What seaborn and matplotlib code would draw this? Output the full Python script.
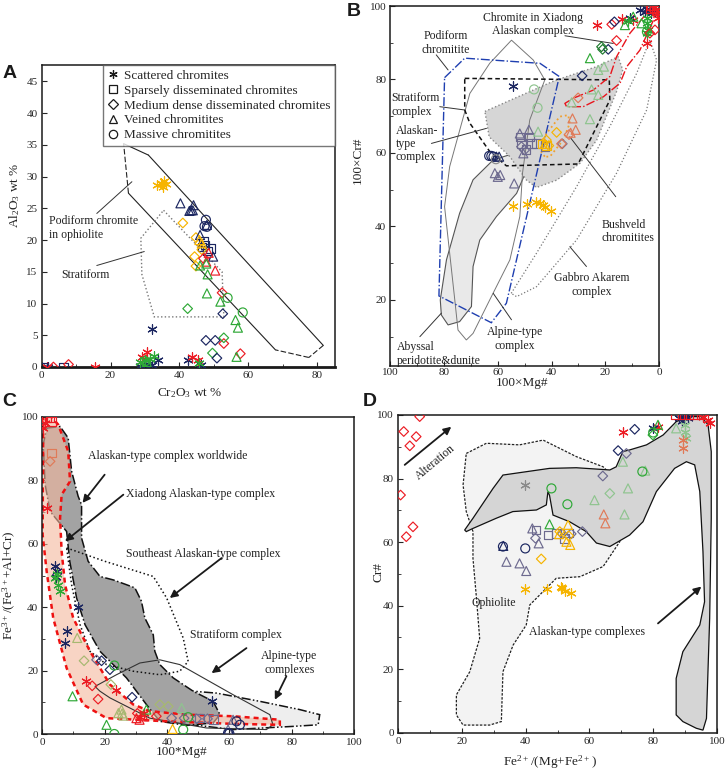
import matplotlib
matplotlib.use("Agg")
import matplotlib.pyplot as plt
from matplotlib.markers import MarkerStyle
from matplotlib.lines import Line2D
from matplotlib.patches import Polygon
import seaborn as sns
import pandas as pd

sns.set_theme(style="white")
plt.rcParams['font.family'] = ['Liberation Serif', 'DejaVu Serif']
plt.rcParams['mathtext.default'] = 'regular'

# ---------------- colours ----------------
COL = {'navy': '#1b2660', 'red': '#ec1c24', 'green': '#2ea836', 'gold': '#f6b400',
       'lgreen': '#8fc48f', 'salmon': '#e07a58', 'gp': '#6d6a8f', 'gray': '#8a8a8a',
       'dgreen': '#1e7a2e', 'olive': '#a6b870'}

KINDS = ['Scattered chromites', 'Sparsely disseminated chromites',
         'Medium dense disseminated chromites', 'Veined chromitites', 'Massive chromitites']
MARK = {'Scattered chromites': (6, 2, 0), 'Sparsely disseminated chromites': 's',
        'Medium dense disseminated chromites': 'D', 'Veined chromitites': '^',
        'Massive chromitites': 'o'}
SIZE = {'Scattered chromites': 46, 'Sparsely disseminated chromites': 38,
        'Medium dense disseminated chromites': 24, 'Veined chromitites': 42,
        'Massive chromitites': 42}

# ---------------- Panel A data (Cr2O3, Al2O3) ----------------
A_scattered = [(33.5, 28.7, 'gold'), (34.6, 29.0, 'gold'), (35.2, 28.3, 'gold'), (35.6, 29.3, 'gold'),
               (36.1, 28.8, 'gold'), (35.0, 28.9, 'gold'),
               (32.0, 6.0, 'navy'), (33.7, 1.1, 'navy'), (32.0, 0.3, 'navy'), (28.6, 0.2, 'navy'),
               (29.6, 0.3, 'navy'), (30.8, 0.5, 'navy'), (42.4, 1.1, 'navy'), (46.4, 0.3, 'navy'),
               (1.9, 0.0, 'navy'),
               (30.6, 2.4, 'red'), (29.0, 1.6, 'red'), (43.6, 1.6, 'red'), (45.3, 1.1, 'red'),
               (1.5, 0.0, 'red'), (15.5, 0.0, 'red'),
               (32.7, 1.8, 'green'), (28.6, 0.8, 'green'), (29.9, 1.1, 'green'), (31.5, 1.3, 'green'),
               (45.8, 0.6, 'green')]
A_sparse = [(0.2, 0.0, 'navy'), (6.3, 0.0, 'navy'), (46.6, 18.9, 'navy'), (47.5, 19.2, 'navy'),
            (49.0, 18.7, 'navy'), (47.0, 19.8, 'navy'), (48.2, 18.3, 'navy')]
A_medium = [(41.0, 22.7, 'gold'), (44.8, 20.4, 'gold'), (44.4, 17.4, 'gold'), (44.8, 15.9, 'gold'),
            (46.5, 18.5, 'gold'),
            (47.0, 17.1, 'red'), (52.4, 11.7, 'red'), (52.9, 3.7, 'red'), (57.7, 2.1, 'red'),
            (3.4, 0.0, 'red'), (7.8, 0.4, 'red'),
            (42.4, 9.2, 'green'), (49.6, 2.2, 'green'), (52.9, 4.6, 'green'),
            (52.6, 8.4, 'navy'), (47.7, 4.2, 'navy'), (50.4, 4.2, 'navy'), (50.9, 1.4, 'navy')]
A_veined = [(40.3, 25.8, 'navy'), (43.4, 24.7, 'navy'), (44.1, 25.5, 'navy'), (43.9, 24.7, 'navy'),
            (42.9, 24.6, 'navy'), (48.0, 22.4, 'navy'), (46.0, 20.8, 'navy'), (49.8, 17.4, 'navy'),
            (47.8, 16.6, 'red'), (50.4, 15.2, 'red'), (48.5, 18.0, 'red'),
            (45.8, 20.0, 'gold'), (46.5, 19.5, 'gold'),
            (46.0, 16.0, 'green'), (47.8, 16.3, 'green'), (48.2, 14.6, 'green'), (48.0, 11.6, 'green'),
            (51.9, 10.3, 'green'), (56.3, 7.4, 'green'), (57.0, 6.2, 'green'), (56.6, 1.6, 'green'),
            (30.5, 0.8, 'green')]
A_massive = [(47.7, 23.2, 'navy'), (47.3, 22.2, 'navy'), (48.0, 22.1, 'navy'),
             (54.0, 10.9, 'green'), (58.4, 8.6, 'green'), (30.0, 0.9, 'green')]

A_podiform = [(23.8, 35.2), (31.0, 33.4), (81.8, 3.4), (77.6, 1.5), (67.9, 2.7), (25.2, 27.4)]
A_podiform_dashed = [False, False, True, True, False, True]   # style of each edge
A_stratiform = [(35.4, 24.7), (52.4, 15.0), (52.9, 7.9), (32.7, 7.9), (29.1, 14.6), (28.8, 20.3)]

# ---------------- Panel B data (100xMg#, 100xCr#) ----------------
B_scattered = [(0.9, 98.0, 'red'), (0.5, 96.6, 'red'), (23.2, 94.8, 'red'), (13.9, 96.4, 'red'),
               (9.8, 96.2, 'red'), (4.6, 89.8, 'red'), (1.2, 99.0, 'red'),
               (7.1, 98.9, 'navy'), (5.2, 98.5, 'navy'), (4.6, 99.1, 'navy'), (10.8, 96.6, 'navy'),
               (54.2, 78.2, 'navy'), (3.0, 98.0, 'navy'),
               (4.6, 96.6, 'green'), (4.6, 95.3, 'green'), (4.0, 93.5, 'green'), (4.6, 92.6, 'green'),
               (11.5, 95.8, 'green'),
               (54.5, 45.7, 'gold'), (49.1, 46.0, 'gold'), (45.6, 46.6, 'gold'), (44.3, 46.3, 'gold'),
               (43.1, 45.9, 'gold'), (42.3, 45.2, 'gold'), (40.3, 44.3, 'gold')]
B_sparse = [(0.5, 100.0, 'red'), (1.6, 99.6, 'red'), (2.8, 100.0, 'red'), (3.4, 99.2, 'red'),
            (1.0, 98.8, 'red'),
            (51.8, 64.4, 'gp'), (51.2, 62.6, 'gp'), (48.1, 64.4, 'gp'), (45.6, 62.6, 'gp'),
            (42.5, 61.7, 'gp'), (47.5, 62.6, 'gp'), (49.5, 61.0, 'gp'),
            (43.5, 62.5, 'gold'), (41.8, 62.0, 'gold')]
B_medium = [(0.25, 99.8, 'red'), (2.1, 98.9, 'red'), (1.5, 93.5, 'red'), (3.4, 92.6, 'red'),
            (17.6, 95.0, 'red'), (15.8, 90.6, 'red'),
            (16.6, 95.7, 'navy'), (18.9, 88.2, 'navy'), (28.6, 81.0, 'navy'), (36.0, 62.5, 'gp'),
            (21.4, 88.9, 'dgreen'), (21.0, 88.2, 'dgreen'),
            (30.1, 75.0, 'salmon'), (36.3, 62.5, 'salmon'), (33.5, 65.0, 'salmon'),
            (38.1, 65.6, 'gold'), (41.9, 63.5, 'gold'), (41.0, 62.0, 'gold'),
            (51.2, 61.7, 'gp'), (50.0, 60.8, 'gp')]
B_veined = [(25.7, 85.8, 'green'), (12.7, 94.8, 'green'), (9.6, 97.1, 'green'), (6.5, 95.3, 'green'),
            (22.6, 82.6, 'lgreen'), (20.5, 83.5, 'lgreen'), (25.1, 77.3, 'lgreen'), (22.6, 75.8, 'lgreen'),
            (32.5, 73.8, 'lgreen'), (25.7, 69.2, 'lgreen'), (45.0, 65.8, 'lgreen'),
            (32.2, 69.4, 'salmon'), (31.0, 66.3, 'salmon'), (32.9, 65.5, 'salmon'),
            (51.8, 65.3, 'gp'), (48.4, 66.3, 'gp'), (50.5, 59.9, 'gp'), (61.1, 54.5, 'gp'),
            (59.1, 54.0, 'gp'), (53.9, 51.7, 'gp'), (60.0, 53.5, 'gp'),
            (60.5, 59.0, 'navy'), (59.5, 59.0, 'navy'), (42.5, 62.5, 'gold')]
B_massive = [(46.5, 77.3, 'lgreen'), (45.2, 72.3, 'lgreen'),
             (63.2, 59.2, 'navy'), (62.4, 59.2, 'navy'), (61.6, 59.0, 'navy'), (60.7, 58.3, 'gray'),
             (4.5, 93.0, 'green')]

B_podiform = [(79.8, 80.5), (72.3, 85.8), (44.3, 84.4), (37.1, 80.8), (56.8, 19.1), (62.4, 13.8), (81.9, 21.1)]
B_stratiform = [(72.3, 80.3), (18.5, 79.9), (18.3, 74.4), (30.1, 57.0), (56.8, 56.5), (63.0, 60.4),
                (70.4, 68.1), (72.3, 71.7)]
B_alaskan = [(64.8, 71.3), (38.8, 79.7), (23.2, 83.5), (15.2, 86.2), (13.5, 82.6), (15.8, 76.7),
             (23.2, 63.5), (29.4, 57.2), (38.1, 52.6), (45.6, 50.6), (49.3, 52.6), (55.5, 59.0), (63.2, 64.4)]
B_abyssal = [(81.4, 20.0), (79.1, 30.9), (74.2, 43.6), (69.2, 52.7), (61.7, 58.1), (51.8, 60.4), (48.1, 59.9),
             (48.7, 56.3), (53.0, 49.0), (60.5, 42.7), (66.7, 36.3), (69.2, 29.1), (69.8, 18.2),
             (74.2, 14.1), (78.5, 13.2), (81.0, 15.9)]
B_alpine = [(54.9, 90.7), (46.8, 85.3), (42.5, 79.9), (48.1, 69.0), (50.8, 54.5), (51.8, 42.7), (55.5, 30.9),
            (63.0, 20.0), (69.2, 10.9), (71.7, 9.1), (74.8, 11.8), (76.0, 20.0), (79.8, 45.4), (77.9, 56.3),
            (70.4, 76.2), (63.0, 84.4)]
B_gabbro = [(55.0, 21.8), (45.6, 32.7), (30.7, 50.8), (18.3, 67.2), (8.3, 81.7), (3.4, 90.7), (0.9, 85.3),
            (4.6, 71.7), (15.8, 54.5), (30.7, 36.3), (45.6, 23.6), (53.0, 20.9)]
B_bushveld = [(42.5, 59.0), (44.3, 60.8), (41.9, 65.3), (36.9, 69.9), (33.8, 70.3), (33.2, 68.1),
              (35.7, 63.5), (40.6, 59.0)]
B_xiadong = [(0.9, 100.0), (2.1, 96.1), (7.1, 88.0), (12.0, 83.5), (14.5, 79.0), (20.7, 75.3), (28.2, 72.6),
             (34.4, 72.6), (35.0, 73.5), (31.9, 74.9), (24.5, 77.1), (18.3, 80.8), (15.8, 86.2),
             (10.8, 92.6), (4.6, 98.0)]

# ---------------- Panel C data (100*Mg#, Fe3+/(Fe3+ + Al + Cr)) ----------------
C_scattered = [(0.9, 98.1, 'red'), (0.3, 96.5, 'red'), (1.4, 71.3, 'red'), (14.0, 16.8, 'red'),
               (23.5, 14.0, 'red'), (31.5, 5.5, 'red'), (32.5, 6.5, 'red'),
               (4.1, 52.9, 'navy'), (4.6, 51.3, 'navy'), (11.5, 40.0, 'navy'), (7.8, 32.4, 'navy'),
               (7.3, 28.7, 'navy'), (54.5, 10.5, 'navy'), (4.5, 49.5, 'navy'),
               (4.1, 49.2, 'green'), (5.1, 47.1, 'green'), (5.7, 45.0, 'green'), (4.6, 50.5, 'green')]
C_sparse = [(1.4, 99.7, 'red'), (2.5, 99.7, 'red'), (3.0, 98.6, 'red'), (3.0, 88.6, 'salmon'),
            (50.5, 5.0, 'gp'), (55.0, 4.5, 'gp')]
C_medium = [(2.5, 86.0, 'salmon'), (13.4, 23.1, 'olive'), (22.0, 15.6, 'olive'), (37.7, 9.3, 'olive'),
            (40.4, 8.7, 'olive'), (17.4, 23.4, 'gp'), (41.5, 5.0, 'gp'), (45.5, 5.0, 'gp'),
            (49.5, 4.8, 'gp'), (53.0, 4.8, 'gp'), (19.0, 23.1, 'navy'), (21.7, 20.3, 'navy'),
            (28.8, 11.6, 'navy'), (16.0, 15.2, 'red'), (17.9, 11.0, 'red'), (36.6, 5.6, 'red'),
            (30.5, 6.5, 'red')]
C_veined = [(11.2, 30.3, 'olive'), (9.7, 11.9, 'green'), (20.6, 2.9, 'green'), (33.4, 7.7, 'green'),
            (24.4, 6.6, 'olive'), (25.6, 6.5, 'olive'), (25.4, 7.7, 'olive'), (26.0, 5.8, 'olive'),
            (30.2, 5.0, 'red'), (31.2, 4.5, 'red'), (32.4, 5.6, 'red'), (44.7, 8.2, 'lgreen'),
            (41.8, 1.6, 'gold'), (59.6, 1.4, 'gp'), (61.2, 4.5, 'gp')]
C_massive = [(23.1, 21.6, 'green'), (23.1, 0.0, 'green'), (46.8, 5.3, 'green'), (45.2, 1.4, 'green'),
             (59.6, 0.3, 'navy'), (60.0, 0.2, 'navy'), (62.3, 4.0, 'navy'), (63.4, 2.9, 'navy')]

C_world = [(1.4, 96.5), (5.7, 97.0), (8.3, 93.4), (9.4, 82.9), (11.5, 75.0), (12.6, 72.3), (12.6, 61.8),
           (14.7, 54.5), (18.5, 49.7), (22.8, 48.6), (27.0, 47.1), (29.7, 46.1), (31.8, 41.9), (32.9, 36.6),
           (35.6, 31.3), (36.1, 26.1), (37.7, 21.9), (42.0, 17.7), (48.4, 13.5), (54.8, 10.3), (57.0, 6.1),
           (54.8, 3.5), (46.3, 2.7), (37.7, 4.0), (33.4, 9.3), (27.0, 17.7), (18.5, 26.1), (13.7, 34.5),
           (11.0, 42.9), (8.8, 54.5), (7.8, 63.9), (5.1, 67.1), (2.5, 70.2), (0.9, 78.7), (0.3, 91.3)]
C_xiadong = [(0.3, 100.5), (0.2, 80.0), (0.1, 62.9), (1.4, 51.3), (3.5, 36.6), (7.8, 20.8), (13.1, 9.3),
             (20.6, 5.0), (39.9, 4.0), (61.2, 3.2), (76.2, 2.9), (76.2, 4.5), (61.2, 5.6), (46.3, 6.1),
             (34.5, 7.2), (29.2, 9.3), (21.7, 15.6), (15.3, 26.1), (9.9, 36.6), (7.3, 47.1), (6.2, 57.6),
             (5.7, 68.1), (6.2, 75.5), (8.9, 79.7), (8.3, 89.2), (5.1, 97.6), (2.5, 100.5)]
C_southeast = [(7.8, 58.7), (20.0, 54.5), (35.6, 49.7), (39.9, 42.9), (45.2, 30.3), (46.8, 22.9), (44.1, 19.8),
               (37.7, 18.7), (29.2, 19.8), (20.6, 21.9), (15.3, 26.1), (12.1, 34.5), (9.4, 47.1)]
C_stratiform = [(16.9, 15.0), (23.8, 18.7), (31.3, 22.4), (37.7, 23.4), (44.1, 21.9), (61.2, 12.4), (73.0, 6.1),
                (74.0, 2.9), (71.9, 1.4), (52.7, 1.9), (34.5, 5.0), (21.7, 11.4), (18.5, 13.5)]
C_alpine = [(34.5, 10.8), (36.6, 12.9), (42.0, 14.0), (55.9, 12.9), (69.8, 10.3), (82.6, 7.7), (89.0, 6.1),
            (88.5, 2.9), (80.4, 2.4), (61.2, 1.4), (48.4, 2.9), (37.7, 6.1), (35.0, 8.4)]

# ---------------- Panel D data (Fe2+/(Mg+Fe2+), Cr#) ----------------
D_scattered = [(70.5, 94.8, 'red'), (81.5, 96.3, 'red'), (97.2, 98.4, 'red'), (97.7, 97.4, 'red'),
               (95.5, 99.5, 'red'),
               (79.9, 95.8, 'navy'), (88.2, 99.0, 'navy'), (89.3, 99.5, 'navy'), (90.8, 99.0, 'navy'),
               (89.0, 98.0, 'navy'), (39.7, 78.0, 'gray'),
               (89.9, 96.9, 'lgreen'), (89.9, 94.8, 'lgreen'), (90.4, 92.7, 'lgreen'),
               (89.3, 92.1, 'salmon'), (89.3, 89.5, 'salmon'),
               (39.9, 45.1, 'gold'), (46.7, 45.1, 'gold'), (51.5, 45.4, 'gold'), (52.2, 44.7, 'gold'),
               (54.3, 43.9, 'gold'), (51.0, 45.8, 'gold')]
D_sparse = [(87.0, 100.0, 'red'), (89.0, 100.0, 'red'), (91.0, 100.0, 'red'), (93.0, 100.0, 'red'),
            (95.0, 100.0, 'red'),
            (43.2, 63.8, 'gp'), (47.0, 62.2, 'gp'), (49.6, 62.7, 'gp'), (52.2, 61.2, 'gp'), (53.5, 62.8, 'gp')]
D_medium = [(6.8, 99.5, 'red'), (1.8, 94.8, 'red'), (5.7, 93.2, 'red'), (3.7, 90.3, 'red'), (0.8, 74.8, 'red'),
            (4.7, 64.8, 'red'), (2.6, 61.7, 'red'),
            (74.2, 95.5, 'navy'), (69.0, 88.8, 'navy'), (64.2, 80.8, 'gp'), (57.8, 63.3, 'gp'),
            (71.6, 87.9, 'gp'), (79.9, 93.7, 'green'), (66.4, 75.3, 'lgreen'),
            (43.1, 61.2, 'gp'), (51.5, 62.6, 'gp'), (54.3, 62.6, 'gp'),
            (50.7, 63.3, 'gold'), (44.9, 54.7, 'gold'), (53.5, 62.0, 'gold')]
D_veined = [(81.5, 96.9, 'green'), (70.5, 85.3, 'lgreen'), (47.5, 65.6, 'green'),
            (87.2, 95.8, 'lgreen'), (77.5, 82.5, 'lgreen'), (72.1, 76.9, 'lgreen'), (61.6, 73.2, 'lgreen'),
            (71.0, 68.7, 'lgreen'), (64.5, 68.7, 'salmon'), (65.0, 65.9, 'salmon'),
            (42.1, 64.3, 'gp'), (44.1, 59.6, 'gp'), (34.0, 53.8, 'gp'), (38.1, 53.3, 'gp'), (40.2, 50.9, 'gp'),
            (33.0, 58.8, 'navy'), (52.8, 60.1, 'gold'), (54.0, 59.1, 'gold'), (53.3, 65.4, 'gold'),
            (50.5, 62.5, 'gold')]
D_massive = [(76.6, 82.2, 'green'), (48.1, 76.9, 'green'), (53.1, 71.9, 'green'), (80.0, 94.5, 'green'),
             (32.9, 58.6, 'navy'), (39.9, 58.0, 'navy')]

D_ophiolite = [(21.4, 87.9), (27.7, 91.1), (38.1, 90.6), (45.5, 92.1), (55.9, 86.9), (64.3, 83.7), (70.0, 78.0),
               (71.6, 69.6), (69.5, 60.1), (64.3, 52.3), (57.0, 49.1), (49.6, 48.6), (41.3, 40.2), (40.2, 33.9),
               (36.1, 27.6), (32.9, 19.2), (32.4, 3.5), (28.7, 2.4), (20.4, 2.4), (18.3, 5.6), (18.3, 11.9),
               (22.5, 19.2), (25.6, 29.7), (24.6, 42.3), (23.5, 54.9), (23.5, 63.3), (21.4, 69.6), (20.4, 78.0)]
D_alaskan = [(20.9, 63.8), (23.5, 67.5), (29.8, 76.9), (32.9, 81.1), (47.5, 83.2), (55.9, 83.4), (66.4, 82.7),
             (68.4, 83.7), (70.5, 88.5), (72.6, 89.0), (77.9, 90.6), (83.1, 93.7), (87.2, 97.9), (90.9, 99.5),
             (95.1, 99.5), (97.2, 96.9), (98.2, 88.5), (98.2, 67.5), (97.7, 36.0), (96.7, 4.5), (95.6, 0.8),
             (93.5, 1.4), (89.3, 3.5), (87.2, 5.6), (87.2, 17.1), (89.3, 25.5), (94.6, 33.9), (96.1, 41.2),
             (95.6, 57.0), (94.6, 75.9), (93.0, 84.3), (90.4, 85.3), (86.7, 83.2), (81.0, 75.9), (76.8, 66.4),
             (72.6, 62.2), (66.4, 58.6), (62.2, 59.7), (59.0, 63.3), (53.8, 66.4), (48.6, 68.5), (47.5, 74.7),
             (47.0, 75.9), (46.5, 71.7), (43.4, 70.1), (36.0, 69.6), (30.8, 67.5), (23.5, 64.3), (21.4, 63.3)]


def frame(groups):
    rows = []
    for kind, pts in zip(KINDS, groups):
        for x, y, c in pts:
            rows.append({'x': x, 'y': y, 'kind': kind, 'col': c})
    return pd.DataFrame(rows)


def draw_points(ax, df):
    for (kind, col), sub in df.groupby(['kind', 'col'], sort=False):
        m = MARK[kind]
        ms = MarkerStyle(m, fillstyle='none') if kind != KINDS[0] else MarkerStyle(m)
        sns.scatterplot(data=sub, x='x', y='y', ax=ax, marker=ms, color=COL[col],
                        s=SIZE[kind], linewidth=0.85, legend=False, zorder=5)


def poly(ax, pts, fc='none', ec='k', ls='-', lw=0.8, alpha=1.0, z=2):
    p = Polygon(pts, closed=True, facecolor=fc, edgecolor=ec, linestyle=ls, linewidth=lw,
                alpha=alpha, zorder=z)
    ax.add_patch(p)


def style_axes(ax, xmaj, xmin, ymaj, ymin, xpad=3):
    ax.set_xticks(xmaj)
    ax.set_xticks(xmin, minor=True)
    ax.set_yticks(ymaj)
    ax.set_yticks(ymin, minor=True)
    ax.tick_params(which='both', direction='in', top=False, right=False, labelsize=8, pad=3)
    ax.tick_params(axis='x', which='both', pad=xpad)
    ax.tick_params(which='major', length=3.5, width=0.8, bottom=True, left=True)
    ax.tick_params(which='minor', length=2, width=0.6, bottom=True, left=True)
    for s in ax.spines.values():
        s.set_color('k')
        s.set_linewidth(1.1)
    ax.set_xlabel('')
    ax.set_ylabel('')


W, H = 726, 771
fig = plt.figure(figsize=(W / 100, H / 100), dpi=100)


def add_ax(l, r, t, b):
    return fig.add_axes([l / W, 1 - b / H, (r - l) / W, (b - t) / H])


TXT = dict(fontsize=8.5, color='#222222')
ARW = dict(arrowstyle='-|>', color='k', lw=1.3, mutation_scale=11, shrinkA=0, shrinkB=0)
LIN = dict(arrowstyle='-', color='#333333', lw=0.7, shrinkA=0, shrinkB=0)

# ---------------- Panel A ----------------
axA = add_ax(41.7, 335, 65, 367)
n = len(A_podiform)
for i in range(n):
    p0, p1 = A_podiform[i], A_podiform[(i + 1) % n]
    axA.plot([p0[0], p1[0]], [p0[1], p1[1]], color='#222222', lw=0.8,
             ls=(0, (5, 2)) if A_podiform_dashed[i] else '-', zorder=2)
poly(axA, A_stratiform, ec='#777777', ls=':', lw=1.0)
draw_points(axA, frame([A_scattered, A_sparse, A_medium, A_veined, A_massive]))
axA.set_xlim(0, 85.2)
axA.set_ylim(0, 47.6)
style_axes(axA, range(0, 81, 20), range(10, 85, 20), range(0, 46, 5), [])
axA.spines['bottom'].set_linewidth(2.0)
axA.text(2.1, 23.9, 'Podiform chromite\nin ophiolite', va='top', ha='left', linespacing=1.2, **TXT)
axA.annotate('', xy=(26.2, 29.2), xytext=(16.0, 24.2), arrowprops=LIN)
axA.text(5.8, 14.5, 'Stratiform', va='center', ha='left', **TXT)
axA.annotate('', xy=(29.8, 18.2), xytext=(16.0, 16.0), arrowprops=LIN)
handles = [Line2D([], [], ls='none', marker=MARK[k], color='k', mfc='none', ms=6 if k != KINDS[2] else 4.8,
                  mew=0.9) for k in KINDS]
leg = axA.legend(handles, KINDS, loc='upper right', bbox_to_anchor=(1.0, 1.0), borderaxespad=0,
                 frameon=True, fancybox=False, fontsize=9.5, handlelength=0.8, handletextpad=0.4,
                 labelspacing=0.2, borderpad=0.35)
leg.get_frame().set_edgecolor('#555555')
leg.get_frame().set_linewidth(1.0)

# ---------------- Panel B ----------------
axB = add_ax(390.3, 659, 6, 365.7)
poly(axB, B_abyssal, fc='#e9e9e9', ec='#555555', ls='-', lw=0.8, z=1)
poly(axB, B_alaskan, fc='#d6d6d6', ec='#888888', ls=':', lw=1.0, z=1.5)
poly(axB, B_alpine, ec='#777777', ls='-', lw=0.7)
poly(axB, B_gabbro, ec='#777777', ls=':', lw=0.9)
poly(axB, B_stratiform, ec='#111111', ls=(0, (3, 2)), lw=1.1)
poly(axB, B_podiform, ec='#1f3fb0', ls='-.', lw=1.0)
poly(axB, B_bushveld, ec='#f0a030', ls=':', lw=1.3)
poly(axB, B_xiadong, ec='#e8141c', ls='-.', lw=1.0)
draw_points(axB, frame([B_scattered, B_sparse, B_medium, B_veined, B_massive]))
axB.set_xlim(100, 0)
axB.set_ylim(2.1, 100)
style_axes(axB, range(0, 101, 20), range(10, 100, 20), range(20, 101, 20), range(10, 100, 20), xpad=1.5)
axB.text(46.8, 98.5, 'Chromite in Xiadong\nAlaskan complex', va='top', ha='center', linespacing=1.15, **TXT)
axB.annotate('', xy=(17.0, 89.8), xytext=(35.0, 91.9), arrowprops=LIN)
axB.text(79.4, 93.4, 'Podiform\nchromitite', va='top', ha='center', linespacing=1.15, **TXT)
axB.annotate('', xy=(78.5, 82.6), xytext=(82.9, 86.7), arrowprops=LIN)
axB.text(99.5, 76.5, 'Stratiform\ncomplex', va='top', ha='left', linespacing=1.15, **TXT)
axB.annotate('', xy=(72.3, 71.7), xytext=(81.6, 72.6), arrowprops=LIN)
axB.text(98.0, 67.5, 'Alaskan-\ntype\ncomplex', va='top', ha='left', linespacing=1.1, **TXT)
axB.annotate('', xy=(64.2, 66.7), xytext=(84.7, 62.6), arrowprops=LIN)
axB.text(21.5, 42.0, 'Bushveld\nchromitites', va='top', ha='left', linespacing=1.15, **TXT)
axB.annotate('', xy=(33.2, 64.4), xytext=(16.1, 48.1), arrowprops=LIN)
axB.text(25.0, 27.5, 'Gabbro Akarem\ncomplex', va='top', ha='center', linespacing=1.15, **TXT)
axB.annotate('', xy=(33.2, 34.5), xytext=(27.0, 29.1), arrowprops=LIN)
axB.text(53.5, 12.8, 'Alpine-type\ncomplex', va='top', ha='center', linespacing=1.15, **TXT)
axB.annotate('', xy=(61.7, 21.8), xytext=(54.9, 14.6), arrowprops=LIN)
axB.text(97.5, 8.7, 'Abyssal\nperidotite&dunite', va='top', ha='left', linespacing=1.15, **TXT)
axB.annotate('', xy=(81.0, 16.4), xytext=(89.0, 10.0), arrowprops=LIN)

# ---------------- Panel C ----------------
axC = add_ax(42.3, 354, 417, 734)
poly(axC, C_alpine, fc='#eeeeee', ec='#111111', ls=(0, (6, 1.5, 1, 1.5, 1, 1.5)), lw=1.1, z=1)
poly(axC, C_world, fc='#a3a3a3', ec='#111111', ls='-.', lw=1.1, z=1.5)
poly(axC, C_xiadong, fc='#f4b89e', ec='none', alpha=0.6, z=1.8)
poly(axC, C_xiadong, ec='#ee1111', ls=(0, (2, 1.6)), lw=1.8, z=2.5)
poly(axC, C_southeast, ec='#111111', ls=':', lw=1.1, z=2.2)
poly(axC, C_stratiform, ec='#333333', ls='-', lw=0.8, z=2.2)
draw_points(axC, frame([C_scattered, C_sparse, C_medium, C_veined, C_massive]))
axC.set_xlim(0, 100)
axC.set_ylim(0, 100)
style_axes(axC, range(0, 101, 20), range(10, 100, 20), range(0, 101, 20), range(10, 100, 20))
axC.text(14.7, 87.6, 'Alaskan-type complex worldwide', va='center', ha='left', **TXT)
axC.annotate('', xy=(12.9, 72.9), xytext=(20.0, 81.8), arrowprops=ARW)
axC.text(26.8, 75.7, 'Xiadong Alaskan-type complex', va='center', ha='left', **TXT)
axC.annotate('', xy=(7.3, 60.8), xytext=(26.0, 75.5), arrowprops=ARW)
axC.text(26.7, 56.9, 'Southeast Alaskan-type complex', va='center', ha='left', **TXT)
axC.annotate('', xy=(40.9, 42.9), xytext=(57.5, 55.5), arrowprops=ARW)
axC.text(47.3, 31.3, 'Stratiform complex', va='center', ha='left', **TXT)
axC.annotate('', xy=(54.3, 19.2), xytext=(65.5, 27.1), arrowprops=ARW)
axC.text(79.2, 22.4, 'Alpine-type\ncomplexes', va='center', ha='center', linespacing=1.15, **TXT)
axC.annotate('', xy=(74.6, 10.8), xytext=(78.3, 18.2), arrowprops=ARW)

# ---------------- Panel D ----------------
axD = add_ax(398, 717, 415, 732.7)
poly(axD, D_ophiolite, fc='#f3f3f3', ec='#222222', ls=(0, (2, 1.2)), lw=0.9, z=1)
poly(axD, D_alaskan, fc='#d5d5d5', ec='#111111', ls='-', lw=0.9, z=1.5)
draw_points(axD, frame([D_scattered, D_sparse, D_medium, D_veined, D_massive]))
axD.set_xlim(0, 100)
axD.set_ylim(0, 100)
style_axes(axD, range(0, 101, 20), range(10, 100, 20), range(0, 101, 20), range(10, 100, 20))
axD.annotate('', xy=(16.7, 96.3), xytext=(2.1, 84.3), arrowprops=ARW)
axD.text(11.8, 85.2, 'Alteration', rotation=40, va='center', ha='center', **TXT)
axD.text(30.0, 40.7, 'Ophiolite', va='center', ha='center', **TXT)
axD.text(41.0, 31.6, 'Alaskan-type complexes', va='center', ha='left', **TXT)
axD.annotate('', xy=(95.1, 46.0), xytext=(81.5, 34.4), arrowprops=ARW)

# ---------------- labels ----------------
LAB = dict(fontsize=9.5, color='#222222')
fig.text(15 / W, 1 - 195 / H, 'Al$_2$O$_3$ wt %', rotation=90, ha='center', va='center', **LAB)
fig.text(190 / W, 1 - 393 / H, 'Cr$_2$O$_3$ wt %', ha='center', va='center', **LAB)
fig.text(358 / W, 1 - 160 / H, '100×Cr#', rotation=90, ha='center', va='center', **LAB)
fig.text(522 / W, 1 - 376.5 / H, '100×Mg#', ha='center', va='top', **LAB)
fig.text(9 / W, 1 - 585 / H, 'Fe$^{3+}$/(Fe$^{3+}$+Al+Cr)', rotation=90, ha='center', va='center', **LAB)
fig.text(182 / W, 1 - 752 / H, '100*Mg#', ha='center', va='center', **LAB)
fig.text(378 / W, 1 - 572 / H, 'Cr#', rotation=90, ha='center', va='center', **LAB)
fig.text(550 / W, 1 - 762 / H, 'Fe$^{2+}$/(Mg+Fe$^{2+}$)', ha='center', va='center', **LAB)

PL = dict(fontsize=14, fontweight='bold', family=['Liberation Sans', 'DejaVu Sans'], color='k',
          ha='left', va='center')
fig.text(3 / W, 1 - 74 / H, 'A', **PL)
fig.text(347 / W, 1 - 12 / H, 'B', **PL)
fig.text(2 / W, 1 - 401 / H, 'C', **PL)
fig.text(363 / W, 1 - 401 / H, 'D', **PL)

fig.savefig('out.png', dpi=100, facecolor='white')
